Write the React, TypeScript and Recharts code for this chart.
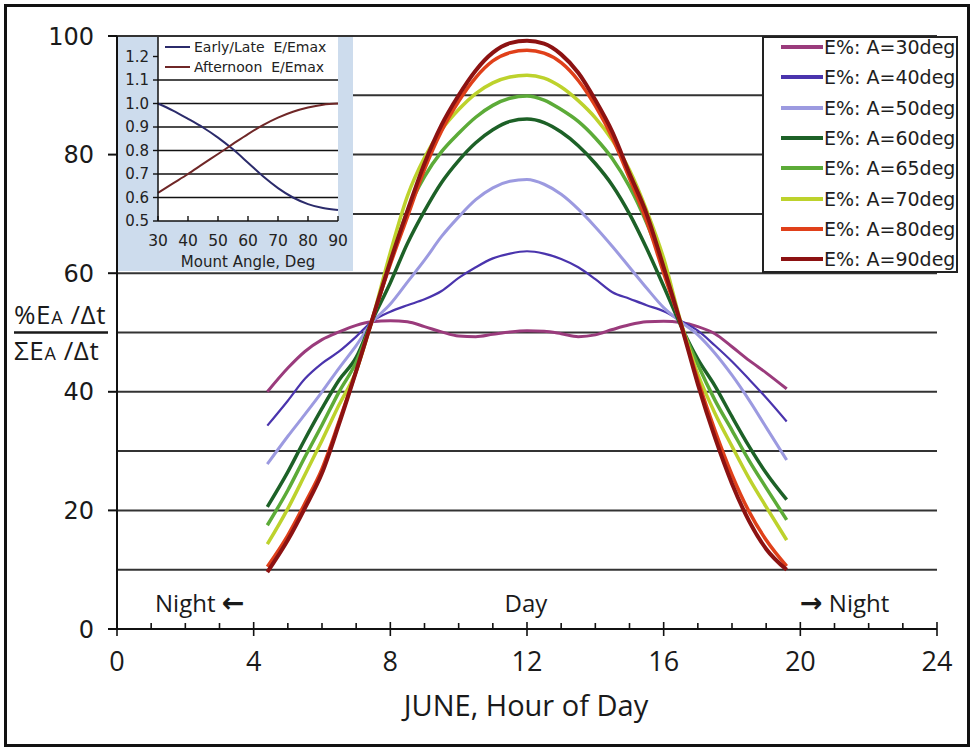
import React from 'react';
import { LineChart, Line, XAxis, YAxis, Legend, CartesianGrid } from 'recharts';

// ---------- main chart data ----------
const hours = [4.4, 5, 5.5, 6, 6.5, 7, 7.45, 8, 8.5, 9, 9.5, 10, 10.5, 11, 11.5, 12, 12.5, 13, 13.5, 14, 14.5, 15, 15.5, 16, 16.5, 17, 17.5, 18, 18.5, 19, 19.6];
const a30 = [40, 44, 46.8, 48.8, 50.1, 51.2, 51.8, 52, 51.8, 51, 50.1, 49.4, 49.3, 49.7, 50.1, 50.3, 50.2, 49.8, 49.3, 49.6, 50.5, 51.3, 51.8, 51.9, 51.7, 51, 49.8, 47.6, 45.3, 43.2, 40.5];
const a40 = [34.3, 38.5, 42.2, 44.8, 46.8, 49.3, 51.8, 53.5, 54.6, 55.6, 57, 59.2, 61, 62.5, 63.3, 63.7, 63.3, 62.4, 61, 59, 56.8, 55.7, 54.6, 53.6, 52, 50.3, 47.8, 45.1, 42.1, 39, 35];
const a50 = [27.8, 32.5, 36.2, 40, 44, 47.8, 51.6, 54.8, 58.5, 62.2, 66.2, 69.5, 72.4, 74.4, 75.5, 75.8, 75, 73.3, 70.8, 67.8, 64.5, 61, 57.5, 54.2, 51.8, 49.6, 46.5, 42.8, 38.6, 34, 28.5];
const a60 = [20.6, 26.5, 32, 37.2, 42, 45.8, 51.8, 58.4, 65, 70.5, 75.3, 79, 82, 84.2, 85.6, 86, 85.4, 83.8, 81.5, 78.5, 74.8, 70, 64.2, 57.8, 51.2, 45.5, 41, 35.8, 30.8, 26.3, 21.8];
const a65 = [17.5, 23.4, 29, 34.4, 40, 45, 51.8, 62, 70.5, 76.3, 80.5, 83.6, 86.3, 88.3, 89.5, 89.9, 89.2, 87.6, 85.6, 82.8, 79.3, 74.6, 68.5, 61, 51.5, 44.6, 38.6, 33.5, 28.4, 23.8, 18.4];
const a70 = [14.3, 20.3, 26, 31.8, 37.8, 43.5, 51.8, 63.5, 73, 79.5, 84.2, 87.6, 90.3, 92.1, 93.1, 93.4, 92.9, 91.4, 89.1, 86.2, 82.4, 77.4, 70.6, 62.5, 51.8, 43, 36.4, 30.8, 25.4, 20.6, 15];
const a80 = [10.5, 15.8, 21.2, 27, 35, 43.5, 51.8, 61.5, 69.5, 77.5, 84, 89, 93, 95.8, 97.2, 97.6, 97.1, 95.5, 92.5, 88.2, 82.8, 76, 68.8, 60, 51.5, 42, 33.5, 26, 19.8, 15, 10.6];
const a90 = [9.6, 15, 20.4, 26.3, 34.6, 43.5, 51.8, 62, 70.5, 78.5, 85, 90, 94.2, 97.2, 98.8, 99.2, 98.7, 96.9, 93.8, 89.2, 83.8, 76.8, 70, 61, 51.5, 41.3, 32.3, 24.5, 18.2, 13.5, 10];

const seriesKeys = ['a30', 'a40', 'a50', 'a60', 'a65', 'a70', 'a80', 'a90'];
const seriesValues = [a30, a40, a50, a60, a65, a70, a80, a90];
const seriesNames = ['E%: A=30deg', 'E%: A=40deg', 'E%: A=50deg', 'E%: A=60deg', 'E%: A=65deg', 'E%: A=70deg', 'E%: A=80deg', 'E%: A=90deg'];
const seriesColors = ['#9a3b7c', '#4a34ad', '#9c9ae0', '#1d6127', '#5cab38', '#bdd22c', '#e0401a', '#8c1212'];
const seriesWidths = [3, 2.2, 3, 3.5, 3.5, 3.5, 3.5, 4];

const xTicks = [0, 1, 2, 3, 4, 5, 6, 7, 8, 9, 10, 11, 12, 13, 14, 15, 16, 17, 18, 19, 20, 21, 22, 23, 24];
const yTicks = [0, 20, 40, 60, 80, 100];
const gridValues = [10, 20, 30, 40, 50, 60, 70, 80, 90, 100];

// ---------- inset data ----------
const insetAngles = [30, 35, 40, 45, 50, 55, 60, 65, 70, 75, 80, 85, 90];
const insetEarly = [1.0, 0.97, 0.935, 0.898, 0.855, 0.805, 0.748, 0.69, 0.64, 0.6, 0.572, 0.555, 0.547];
const insetAfternoon = [0.62, 0.66, 0.70, 0.743, 0.785, 0.828, 0.87, 0.908, 0.94, 0.965, 0.983, 0.995, 1.0];
const insetXTicks = [30, 40, 50, 60, 70, 80, 90];
const insetYTicks = [0.5, 0.6, 0.7, 0.8, 0.9, 1.0, 1.1, 1.2];
const insetGrid = [0.6, 0.7, 0.8, 0.9, 1.0, 1.1];
const insetNames = ['Early/Late  E/Emax', 'Afternoon  E/Emax'];
const insetColors = ['#2b2b6b', '#6f2727'];

const mainData = hours.map((h, i) => {
  const row: any = { h };
  seriesKeys.forEach((k, j) => { row[k] = seriesValues[j][i]; });
  return row;
});
const insetData = insetAngles.map((a, i) => ({ a, early: insetEarly[i], aft: insetAfternoon[i] }));

const NARROW = "'Liberation Sans Narrow', 'Open Sans', sans-serif";
const VERD = "'DejaVu Sans', Verdana, sans-serif";

const MainXTick = (props: any) => {
  const { x, y, payload } = props;
  const v = payload.value;
  const major = v % 4 === 0;
  return (
    <g>
      <line x1={x} x2={x} y1={y - (major ? 7 : 6)} y2={y + (major ? 7 : 0)} stroke="#111" strokeWidth={1.6} />
      {major && (
        <text x={x} y={y + 42} textAnchor="middle" fontFamily={NARROW} fontSize={27} fill="#1a1a1a">{v}</text>
      )}
    </g>
  );
};

const InsetXTick = (props: any) => {
  const { x, y, payload } = props;
  return (
    <g>
      <line x1={x} x2={x} y1={y - 5} y2={y} stroke="#111" strokeWidth={1.4} />
      <text x={x} y={y + 25} textAnchor="middle" fontFamily={VERD} fontSize={15.5} fill="#222">{payload.value}</text>
    </g>
  );
};

const mainGridGen = (p: any) => gridValues.map((v) =>
  p && p.yAxis && typeof p.yAxis.scale === 'function' ? p.yAxis.scale(v) : p.offset.top + p.offset.height * (1 - v / 100));

const insetGridGen = (p: any) => insetGrid.map((v) =>
  p && p.yAxis && typeof p.yAxis.scale === 'function' ? p.yAxis.scale(v) : p.offset.top + p.offset.height * (1.283 - v) / 0.783);

const orderBy = (payload: any[], names: string[]) =>
  [...payload].sort((a, b) => names.indexOf(a.value) - names.indexOf(b.value));

const renderMainLegend = (props: any) => {
  const payload = orderBy(props.payload || [], seriesNames);
  return (
    <div style={{ position: 'relative', width: 196, height: 237, border: '2px solid #222', background: '#fff', boxSizing: 'border-box' }}>
      {payload.map((p: any, i: number) => (
        <div key={i} style={{ position: 'absolute', left: 16, top: 11 + i * 30.3 - 2 - 12, height: 24, display: 'flex', alignItems: 'center' }}>
          <svg width={44} height={24} style={{ display: 'block' }}>
            <line x1={1} x2={43} y1={12} y2={12} stroke={p.color} strokeWidth={4} />
          </svg>
          <span style={{ fontFamily: VERD, fontSize: 19, color: '#1e1e1e', whiteSpace: 'nowrap', lineHeight: '24px' }}>{p.value}</span>
        </div>
      ))}
    </div>
  );
};

const renderInsetLegend = (props: any) => {
  const payload = orderBy(props.payload || [], insetNames);
  return (
    <div style={{ position: 'relative', width: 180, height: 40 }}>
      {payload.map((p: any, i: number) => (
        <div key={i} style={{ position: 'absolute', left: 0, top: i * 20, height: 20, display: 'flex', alignItems: 'center' }}>
          <svg width={29} height={20} style={{ display: 'block' }}>
            <line x1={0} x2={25} y1={10} y2={10} stroke={p.color} strokeWidth={2} />
          </svg>
          <span style={{ fontFamily: VERD, fontSize: 14, color: '#222', whiteSpace: 'pre', lineHeight: '20px' }}>{p.value}</span>
        </div>
      ))}
    </div>
  );
};

export default function App() {
  return (
    <div style={{ position: 'absolute', left: 0, top: 0, width: 973, height: 750, background: '#fff', overflow: 'hidden' }}>
      <div style={{ position: 'absolute', left: 0, top: 0 }}>
        <LineChart width={973} height={750} data={mainData} margin={{ top: 36, right: 36, bottom: 81, left: 57 }}>
          <CartesianGrid vertical={false} stroke="#333" strokeWidth={2} horizontalCoordinatesGenerator={mainGridGen} />
          <XAxis type="number" dataKey="h" domain={[0, 24]} ticks={xTicks} interval={0} height={40}
            tickSize={0} tickMargin={0} tickLine={false} tick={<MainXTick />}
            axisLine={{ stroke: '#111', strokeWidth: 2 }} />
          <YAxis type="number" domain={[0, 100]} ticks={yTicks} interval={0} width={60}
            tickSize={9} tickMargin={14}
            tick={{ fontFamily: VERD, fontSize: 24, fill: '#1a1a1a' }}
            tickLine={{ stroke: '#111', strokeWidth: 2 }}
            axisLine={{ stroke: '#111', strokeWidth: 2 }} />
          {seriesKeys.map((k, j) => (
            <Line key={k} type="monotone" dataKey={k} name={seriesNames[j]} stroke={seriesColors[j]}
              strokeWidth={seriesWidths[j]} dot={false} activeDot={false} isAnimationActive={false} />
          ))}
          <Legend layout="vertical" align="center" verticalAlign="middle"
            wrapperStyle={{ left: 762, top: 36, width: 196, height: 237 }} content={renderMainLegend} />
        </LineChart>
      </div>

      <div style={{ position: 'absolute', left: 118, top: 37, width: 235, height: 234, background: '#cddced' }}>
        <LineChart width={235} height={234} data={insetData} margin={{ top: 0, right: 15, bottom: 0, left: 0 }}>
          <CartesianGrid vertical={false} fill="#ffffff" stroke="#111" strokeWidth={1.5} horizontalCoordinatesGenerator={insetGridGen} />
          <XAxis type="number" dataKey="a" domain={[30, 90]} ticks={insetXTicks} interval={0} height={50}
            tickSize={0} tickMargin={0} tickLine={false} tick={<InsetXTick />}
            axisLine={{ stroke: '#111', strokeWidth: 1.5 }}
            label={{ value: 'Mount Angle, Deg', position: 'insideBottom', offset: 4, style: { fontFamily: VERD, fontSize: 15, fill: '#222' } }} />
          <YAxis type="number" domain={[0.5, 1.283]} ticks={insetYTicks} interval={0} width={40}
            tickSize={5} tickMargin={4} tickFormatter={(v: number) => v.toFixed(1)}
            tick={{ fontFamily: VERD, fontSize: 15, fill: '#222' }}
            tickLine={{ stroke: '#111', strokeWidth: 1.4 }}
            axisLine={{ stroke: '#111', strokeWidth: 1.5 }} />
          <Line type="monotone" dataKey="early" name={insetNames[0]} stroke={insetColors[0]} strokeWidth={2} dot={false} activeDot={false} isAnimationActive={false} />
          <Line type="monotone" dataKey="aft" name={insetNames[1]} stroke={insetColors[1]} strokeWidth={2} dot={false} activeDot={false} isAnimationActive={false} />
          <Legend layout="vertical" align="center" verticalAlign="middle"
            wrapperStyle={{ left: 47, top: 0, width: 180, height: 40 }} content={renderInsetLegend} />
        </LineChart>
      </div>

      <svg width={973} height={750} style={{ position: 'absolute', left: 0, top: 0, pointerEvents: 'none' }}>
        <text x={14} y={324} fontFamily={NARROW} fontSize={26} fill="#1a1a1a" letterSpacing={0.6}>
          %E<tspan fontSize={18}>A</tspan> /Δt
        </text>
        <line x1={14} x2={108} y1={332.5} y2={332.5} stroke="#1a1a1a" strokeWidth={2.5} />
        <text x={14} y={360} fontFamily={NARROW} fontSize={26} fill="#1a1a1a" letterSpacing={0.6}>
          ΣE<tspan fontSize={18}>A</tspan> /Δt
        </text>
        <text x={155} y={612} fontFamily={NARROW} fontSize={24} fill="#1a1a1a">
          Night <tspan fontFamily={VERD} fontSize={27} fontWeight="bold">←</tspan>
        </text>
        <text x={526} y={612} textAnchor="middle" fontFamily={NARROW} fontSize={24} fill="#1a1a1a">Day</text>
        <text x={800} y={612} fontFamily={NARROW} fontSize={24} fill="#1a1a1a">
          <tspan fontFamily={VERD} fontSize={27} fontWeight="bold">→</tspan> Night
        </text>
        <text x={526} y={716} textAnchor="middle" fontFamily={NARROW} fontSize={29} fill="#1a1a1a">JUNE, Hour of Day</text>
      </svg>

      <div style={{ position: 'absolute', left: 4, top: 4, width: 966, height: 743, border: '3px solid #111', boxSizing: 'border-box', pointerEvents: 'none' }} />
    </div>
  );
}
